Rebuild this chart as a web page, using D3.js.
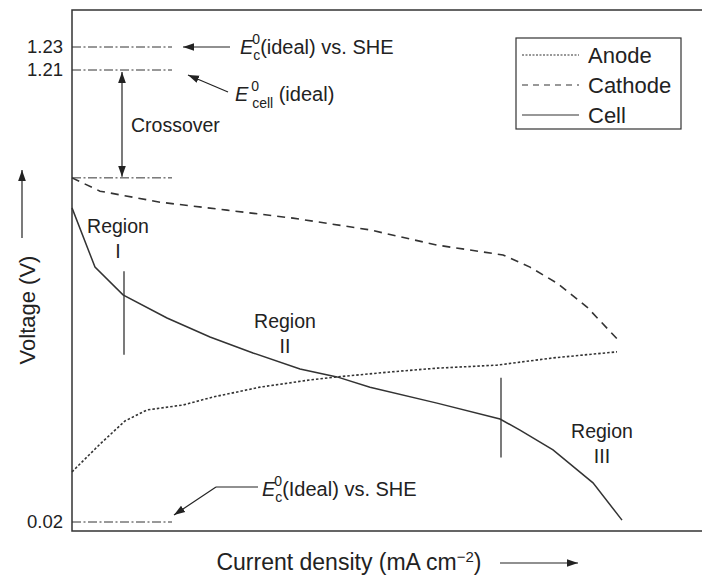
<!DOCTYPE html>
<html>
<head>
<meta charset="utf-8">
<script src="https://cdn.jsdelivr.net/npm/d3@7"></script>
<style>
  body { margin: 0; background: #fff; }
  text { font-family: "Liberation Sans", Arial, sans-serif; fill: #222; }
</style>
</head>
<body>
<script>
// current density in arbitrary units (no ticks on the axis), voltage in V
var anodeX   = [0, 28, 53, 75, 111, 141, 188, 238, 265, 318, 365, 425, 481, 545];
var anodeV   = [0.152, 0.225, 0.286, 0.315, 0.328, 0.349, 0.375, 0.394, 0.402, 0.415, 0.425, 0.433, 0.452, 0.468];
var cathodeX = [0, 28, 88, 155, 221, 298, 365, 431, 458, 485, 515, 548];
var cathodeV = [0.926, 0.891, 0.862, 0.841, 0.820, 0.789, 0.749, 0.723, 0.691, 0.649, 0.586, 0.494];
var cellX    = [0, 23, 51, 95, 138, 181, 228, 265, 298, 365, 428, 448, 481, 521, 550];
var cellV    = [0.847, 0.691, 0.618, 0.557, 0.507, 0.465, 0.423, 0.402, 0.375, 0.333, 0.291, 0.262, 0.210, 0.123, 0.025];

// reference potential levels (dash-dot lines)
var refLevels = [1.23, 1.21, 0.926, 0.02];
var tickValues = [1.23, 1.21, 0.02];
var tickLabels = ["1.23", "1.21", "0.02"];
var refEndX = 100;

// region boundaries and labels
var regionLines = [{x: 52, v0: 0.68, v1: 0.46}, {x: 429, v0: 0.40, v1: 0.19}];
var regionLabels = [{x: 46, v: 0.78, name: "I"}, {x: 213, v: 0.53, name: "II"}, {x: 530, v: 0.24, name: "III"}];

var legendNames = ["Anode", "Cathode", "Cell"];

//Width and height
var w = 702;
var h = 583;
var plotLeft = 72, plotTop = 10, plotBottom = 531;

var x = d3.scaleLinear().domain([0, 630]).range([plotLeft, 702]);
// the drawing is schematic: 1.21 to 1.23 is stretched at the top
var y = d3.scaleLinear().domain([0.02, 1.21, 1.23]).range([522, 70, 47]);

var svg = d3.select("body")
            .append("svg")
            .attr("width", w)
            .attr("height", h);

var defs = svg.append("defs");
defs.append("marker")
    .attr("id", "arrow")
    .attr("viewBox", "0 0 10 10")
    .attr("refX", 10).attr("refY", 5)
    .attr("markerWidth", 11).attr("markerHeight", 11)
    .attr("markerUnits", "userSpaceOnUse")
    .attr("orient", "auto-start-reverse")
    .append("path")
    .attr("d", "M0,1.5 L10,5 L0,8.5 Z")
    .attr("fill", "#222");

//Frame (open on the right)
svg.append("path")
   .attr("d", "M702," + plotTop + " H" + plotLeft + " V" + plotBottom + " H702")
   .attr("fill", "none")
   .attr("stroke", "#333")
   .attr("stroke-width", 1.5);

//Tick labels
svg.selectAll(".tick-label")
   .data(tickValues)
   .enter()
   .append("text")
   .attr("class", "tick-label")
   .attr("x", plotLeft - 9)
   .attr("y", function(d) { return y(d); })
   .attr("dy", "0.35em")
   .attr("text-anchor", "end")
   .attr("font-size", 18.5)
   .text(function(d, i) { return tickLabels[i]; });

//Dash-dot reference lines
svg.selectAll(".ref")
   .data(refLevels)
   .enter()
   .append("line")
   .attr("class", "ref")
   .attr("x1", x(0)).attr("x2", x(refEndX))
   .attr("y1", function(d) { return y(d); })
   .attr("y2", function(d) { return y(d); })
   .attr("stroke", "#333")
   .attr("stroke-width", 1)
   .attr("stroke-dasharray", "9,2.5,2,2.5");

//Curves
var line = d3.line()
    .x(function(d) { return x(d[0]); })
    .y(function(d) { return y(d[1]); });

var series = [
    {name: "Anode", xs: anodeX, vs: anodeV, dash: "2.5,2", width: 1.6},
    {name: "Cathode", xs: cathodeX, vs: cathodeV, dash: "8,6", width: 1.6},
    {name: "Cell", xs: cellX, vs: cellV, dash: null, width: 1.5}
];

svg.selectAll(".curve")
   .data(series)
   .enter()
   .append("path")
   .attr("class", "curve")
   .attr("d", function(s) { return line(s.xs.map(function(v, i) { return [v, s.vs[i]]; })); })
   .attr("fill", "none")
   .attr("stroke", "#333")
   .attr("stroke-width", function(s) { return s.width; })
   .attr("stroke-dasharray", function(s) { return s.dash; });

//Region markers
svg.selectAll(".region-line")
   .data(regionLines)
   .enter()
   .append("line")
   .attr("x1", function(d) { return x(d.x); })
   .attr("x2", function(d) { return x(d.x); })
   .attr("y1", function(d) { return y(d.v0); })
   .attr("y2", function(d) { return y(d.v1); })
   .attr("stroke", "#333")
   .attr("stroke-width", 1.3);

var reg = svg.selectAll(".region")
   .data(regionLabels)
   .enter()
   .append("text")
   .attr("class", "region")
   .attr("text-anchor", "middle")
   .attr("font-size", 19.5);
reg.append("tspan")
   .attr("x", function(d) { return x(d.x); })
   .attr("y", function(d) { return y(d.v); })
   .text("Region");
reg.append("tspan")
   .attr("x", function(d) { return x(d.x); })
   .attr("dy", 25)
   .text(function(d) { return d.name; });

//Annotations
function arrow(x1, y1, x2, y2, both) {
    var p = svg.append("path")
       .attr("d", "M" + x1 + "," + y1 + " L" + x2 + "," + y2)
       .attr("stroke", "#222")
       .attr("stroke-width", 1.2)
       .attr("fill", "none")
       .attr("marker-end", "url(#arrow)");
    if (both) p.attr("marker-start", "url(#arrow)");
    return p;
}

// E_c^0 (ideal) vs. SHE at the top
arrow(230, y(1.23), 183, y(1.23));
var t1 = svg.append("text").attr("x", 240).attr("y", y(1.23) + 7).attr("font-size", 20);
t1.append("tspan").attr("font-style", "italic").text("E");
t1.append("tspan").attr("font-size", 14).attr("dy", 6).text("c");
t1.append("tspan").attr("font-size", 14).attr("dx", -8).attr("dy", -16).text("0");
t1.append("tspan").attr("dy", 10).text("(ideal) vs. SHE");

// E^0_cell (ideal)
arrow(228, 92, 188, 75);
var t2 = svg.append("text").attr("x", 235).attr("y", 101).attr("font-size", 20);
t2.append("tspan").attr("font-style", "italic").text("E");
t2.append("tspan").attr("font-size", 14).attr("dy", -10).attr("dx", 3).text("0");
t2.append("tspan").attr("font-size", 14).attr("dy", 17).attr("dx", -7).text("cell");
t2.append("tspan").attr("dy", -7).text(" (ideal)");

// crossover double arrow
arrow(x(50), y(1.21) + 2, x(50), y(0.926) - 1, true);
svg.append("text")
   .attr("x", 131).attr("y", 132)
   .attr("font-size", 19.5)
   .text("Crossover");

// E_c^0 (Ideal) vs. SHE at the bottom
svg.append("path")
   .attr("d", "M258,487 H216")
   .attr("stroke", "#222").attr("stroke-width", 1.2).attr("fill", "none");
arrow(216, 487, 174, 515);
var t3 = svg.append("text").attr("x", 262).attr("y", 496).attr("font-size", 20);
t3.append("tspan").attr("font-style", "italic").text("E");
t3.append("tspan").attr("font-size", 14).attr("dy", 6).text("c");
t3.append("tspan").attr("font-size", 14).attr("dx", -8).attr("dy", -16).text("0");
t3.append("tspan").attr("dy", 10).text("(Ideal) vs. SHE");

//Axis titles
svg.append("text")
   .attr("transform", "translate(35,310) rotate(-90)")
   .attr("text-anchor", "middle")
   .attr("font-size", 22)
   .text("Voltage (V)");
arrow(22, 238, 22, 170);

var xt = svg.append("text")
   .attr("x", 349).attr("y", 570)
   .attr("text-anchor", "middle")
   .attr("font-size", 23);
xt.append("tspan").text("Current density (mA cm");
xt.append("tspan").attr("font-size", 15).attr("dy", -8).text("\u22122");
xt.append("tspan").attr("dy", 8).text(")");
arrow(500, 563, 578, 563);

//Legend
var legend = svg.append("g")
    .attr("class", "legend")
    .attr("transform", "translate(516,38)");

legend.append("rect")
    .attr("width", 165).attr("height", 91)
    .attr("fill", "#fff")
    .attr("stroke", "#333")
    .attr("stroke-width", 1.2);

var item = legend.selectAll(".item")
    .data(series)
    .enter()
    .append("g")
    .attr("transform", function(d, i) { return "translate(0," + (17 + i * 30) + ")"; });

item.append("line")
    .attr("x1", 6).attr("x2", 63)
    .attr("stroke", "#333")
    .attr("stroke-width", 1.2)
    .attr("stroke-dasharray", function(d, i) { return ["2,1.5", "6,5", null][i]; });

item.append("text")
    .attr("x", 72)
    .attr("dy", "0.35em")
    .attr("font-size", 22)
    .text(function(d, i) { return legendNames[i]; });
</script>
</body>
</html>
